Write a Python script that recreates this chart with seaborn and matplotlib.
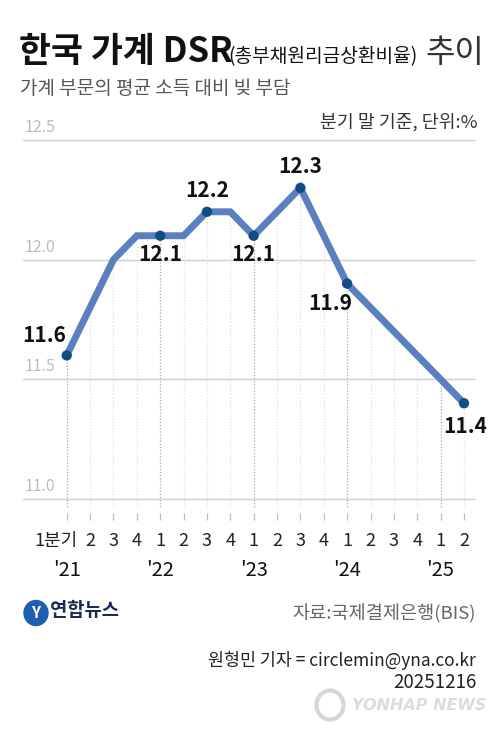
import matplotlib
matplotlib.use("Agg")
import matplotlib.pyplot as plt
import matplotlib.patches as mpatches
import matplotlib.transforms as mtrans
import seaborn as sns
import pandas as pd
import numpy as np

# ---- data ----
quarters = ["1분기", "2", "3", "4", "1", "2", "3", "4", "1", "2", "3", "4",
            "1", "2", "3", "4", "1", "2"]
years = ["'21", "'22", "'23", "'24", "'25"]
year_pos = [0, 4, 8, 12, 16]
dsr = [11.6, 11.8, 12.0, 12.1, 12.1, 12.1, 12.2, 12.2, 12.1, 12.2, 12.3, 12.1,
       11.9, 11.8, 11.7, 11.6, 11.5, 11.4]
labeled = [0, 4, 6, 8, 10, 12, 17]
label_pos = ["above_left", "below", "above", "below", "above", "below_left", "below_end"]
yticks = [11.0, 11.5, 12.0, 12.5]

df = pd.DataFrame({"idx": np.arange(len(dsr)), "dsr": dsr})
dfm = df.iloc[labeled]

sns.set_theme(style="white")
plt.rcParams['font.family'] = ['Noto Sans CJK KR', 'DejaVu Sans']

W, H = 499, 735
fig = plt.figure(figsize=(W / 100, H / 100), dpi=100)
fig.patch.set_facecolor("white")

def fx(px):
    return px / W

def fy(py):
    return 1 - py / H

# axes geometry in pixels
ax_left, ax_right, ax_top, ax_bot = 23, 476, 130, 513
ax = fig.add_axes([fx(ax_left), fy(ax_bot), fx(ax_right - ax_left), (ax_bot - ax_top) / H])
ax.set_facecolor("none")

ppu = 239.3  # pixels per unit
ax.set_ylim(11.0 - 14 / ppu, 12.5 + 10 / ppu)
step = 23.37
x0 = 66.7
ax.set_xlim((ax_left - x0) / step, (ax_right - x0) / step)

for s in ax.spines.values():
    s.set_visible(False)

# gridlines
for yv in yticks:
    ax.axhline(yv, color="#cfcfcf", lw=1.0, zorder=1)
    ax.annotate(f"{yv:.1f}", xy=(0, yv), xycoords=("axes fraction", "data"),
                xytext=(1, 3), textcoords="offset points", ha="left", va="bottom",
                fontsize=11.5, color="#bdbdbd")

# vertical dotted lines
ybot = 11.0 - 8 / ppu
for i, v in enumerate(dsr):
    c = "#a8a8a8" if i % 4 == 0 else "#dedede"
    ax.plot([i, i], [ybot, v], ls=(0, (1, 1.5)), color=c, lw=0.9, zorder=2)

sns.lineplot(data=df, x="idx", y="dsr", ax=ax, color="#5b80c0", lw=5,
             solid_joinstyle="miter", zorder=3)
sns.scatterplot(data=dfm, x="idx", y="dsr", ax=ax, color="#0f4d85", s=55,
                edgecolor="none", zorder=4)

offs = {"above_left": (-16, 7, "center", "bottom"),
        "below": (0, -6, "center", "top"),
        "above": (0, 7.5, "center", "bottom"),
        "below_left": (-12, -7, "center", "top"),
        "below_end": (1, -9, "center", "top")}
for i, p in zip(labeled, label_pos):
    dx, dy, ha, va = offs[p]
    ax.annotate(f"{dsr[i]:.1f}", xy=(i, dsr[i]), xytext=(dx, dy),
                textcoords="offset points", ha=ha, va=va, fontsize=15,
                fontweight="bold", color="#111111", zorder=5)

ax.set_xlabel("")
ax.set_ylabel("")
ax.set_yticks([])
ax.set_xticks(np.arange(len(quarters)))
ax.set_xticklabels(quarters)
ax.tick_params(axis="x", direction="out", length=5, width=0.9, color="#bdbdbd",
               pad=9, labelsize=13, labelcolor="#222222", bottom=True)
lbl0 = ax.get_xticklabels()[0]
lbl0.set_horizontalalignment("right")
lbl0.set_transform(lbl0.get_transform() + mtrans.ScaledTranslation(11 / 100, 0, fig.dpi_scale_trans))

for yr, pos in zip(years, year_pos):
    ax.annotate(yr, xy=(pos, 0), xycoords=("data", "axes fraction"),
                xytext=(0, -57 * 0.72), textcoords="offset points",
                ha="center", va="center", fontsize=14.5, color="#111111")

# ---- titles ----
fig.text(fx(19), fy(62), "한국 가계 DSR", fontsize=25, fontweight="bold",
         color="#111111", ha="left", va="baseline")
fig.text(fx(228), fy(62), "(총부채원리금상환비율)", fontsize=13.8,
         color="#111111", ha="left", va="baseline")
fig.text(fx(484), fy(62), "추이", fontsize=23, fontweight="light",
         color="#333333", ha="right", va="baseline")
fig.text(fx(20), fy(88), "가계 부문의 평균 소득 대비 빚 부담", fontsize=13.7,
         color="#555555", ha="left", va="center")
fig.text(fx(478), fy(122), "분기 말 기준, 단위:%", fontsize=13.2,
         color="#333333", ha="right", va="center")

# ---- footer ----
logo = mpatches.Ellipse((fx(36), fy(613)), width=fx(24), height=25 / H,
                        color="#1f5fae", transform=fig.transFigure)
fig.patches.append(logo)
fig.text(fx(36), fy(613), "Y", fontsize=11, fontweight="bold", style="italic",
         color="white", ha="center", va="center")
fig.text(fx(50), fy(611), "연합뉴스", fontsize=13.5, fontweight="bold",
         color="#1b2a55", ha="left", va="center")
fig.text(fx(476), fy(614), "자료:국제결제은행(BIS)", fontsize=13.4,
         color="#666666", ha="right", va="center")
fig.text(fx(476), fy(660), "원형민 기자 = circlemin@yna.co.kr", fontsize=12.5,
         color="#222222", ha="right", va="center")
fig.text(fx(476), fy(682), "20251216", fontsize=13.5,
         color="#222222", ha="right", va="center")
wm = mpatches.Ellipse((fx(330), fy(705)), width=fx(27), height=29 / H,
                      facecolor="none", edgecolor="#d6d6d6", lw=3,
                      transform=fig.transFigure)
fig.patches.append(wm)
fig.text(fx(486), fy(705), "YONHAP NEWS", fontsize=11.5, fontweight="bold",
         style="italic", color="#dcdcdc", ha="right", va="center",
         family=["DejaVu Sans"])

fig.savefig("out.png", dpi=100, facecolor="white")
